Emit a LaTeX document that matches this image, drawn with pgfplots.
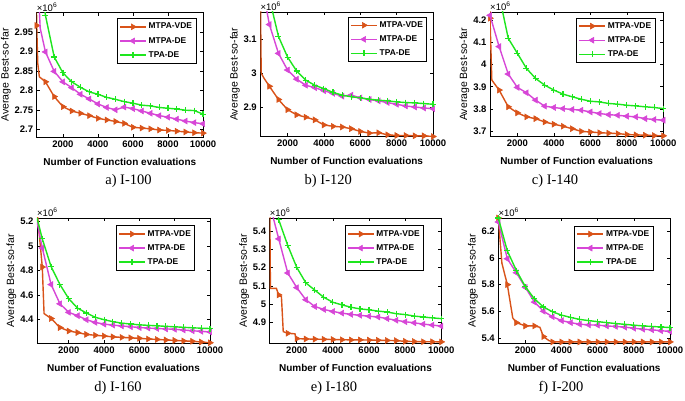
\documentclass[border=0pt]{standalone}
\usepackage{fontspec}
\setmainfont{Liberation Sans}
\newfontfamily\capfont{Liberation Serif}
\usepackage{pgfplots}
\usepackage{pgfplotstable}
\pgfplotsset{compat=1.18}
\definecolor{cO}{RGB}{217,83,25}
\definecolor{cM}{RGB}{215,70,215}
\definecolor{cG}{RGB}{30,230,30}

\pgfplotstableread{
x y
480 3.03
500 2.967
560 2.87
650 2.835
1000 2.822
1500 2.784
2000 2.758
2500 2.747
3000 2.741
3500 2.735
4000 2.728
4500 2.724
5000 2.72
5500 2.715
6000 2.705
6500 2.703
7000 2.701
7500 2.698
8000 2.697
8500 2.695
9000 2.693
9500 2.691
10000 2.69
}\Avde
\pgfplotstableread{
x y
500 3.15
700 2.96
1000 2.899
1500 2.849
2000 2.822
2500 2.807
3000 2.79
3500 2.778
4000 2.765
4500 2.756
5000 2.75
5500 2.757
6000 2.753
6500 2.747
7000 2.741
7500 2.735
8000 2.731
8500 2.726
9000 2.721
9500 2.717
10000 2.714
}\Ade
\pgfplotstableread{
x y
500 3.3
900 3.03
1000 2.993
1500 2.886
2000 2.845
2500 2.822
3000 2.808
3500 2.796
4000 2.79
4500 2.782
5000 2.777
5500 2.771
6000 2.767
6500 2.762
7000 2.76
7500 2.756
8000 2.754
8500 2.752
9000 2.749
9500 2.748
10000 2.739
}\Atpa
\pgfplotstableread{
x y
500 3.25
550 3.0
700 2.985
1000 2.961
1500 2.922
2000 2.892
2500 2.877
3000 2.87
3500 2.862
4000 2.847
4500 2.843
5000 2.841
5500 2.836
6000 2.828
6500 2.823
7000 2.824
7500 2.818
8000 2.816
8500 2.816
9000 2.815
9500 2.815
10000 2.813
}\Bvde
\pgfplotstableread{
x y
500 3.5
800 3.2
1000 3.143
1500 3.058
2000 3.009
2500 2.982
3000 2.964
3500 2.957
4000 2.948
4500 2.94
5000 2.932
5500 2.935
6000 2.927
6500 2.922
7000 2.918
7500 2.913
8000 2.908
8500 2.903
9000 2.9
9500 2.897
10000 2.895
}\Bde
\pgfplotstableread{
x y
500 3.6
1000 3.22
1500 3.108
2000 3.047
2500 3.006
3000 2.979
3500 2.964
4000 2.954
4500 2.943
5000 2.935
5500 2.93
6000 2.927
6500 2.923
7000 2.92
7500 2.918
8000 2.915
8500 2.913
9000 2.912
9500 2.91
10000 2.908
}\Btpa
\pgfplotstableread{
x y
480 4.3
500 4.207
600 3.93
1000 3.885
1500 3.81
2000 3.783
2500 3.765
3000 3.757
3500 3.742
4000 3.732
4500 3.723
5000 3.712
5500 3.70
6000 3.697
6500 3.694
7000 3.692
7500 3.69
8000 3.686
8500 3.684
9000 3.683
9500 3.681
10000 3.68
}\Cvde
\pgfplotstableread{
x y
500 4.22
1000 4.08
1500 3.957
2000 3.897
2500 3.873
3000 3.84
3500 3.813
4000 3.807
4500 3.802
5000 3.798
5500 3.795
6000 3.787
6500 3.78
7000 3.775
7500 3.772
8000 3.768
8500 3.765
9000 3.757
9500 3.753
10000 3.75
}\Cde
\pgfplotstableread{
x y
500 4.6
1000 4.31
1500 4.117
2000 4.05
2500 3.982
3000 3.937
3500 3.907
4000 3.885
4500 3.867
5000 3.855
5500 3.844
6000 3.835
6500 3.832
7000 3.825
7500 3.822
8000 3.817
8500 3.814
9000 3.81
9500 3.807
10000 3.802
}\Ctpa
\pgfplotstableread{
x y
200 5.3
500 4.83
600 4.45
1000 4.41
1500 4.336
2000 4.308
2500 4.295
3000 4.28
3500 4.273
4000 4.267
4500 4.26
5000 4.256
5500 4.252
6000 4.248
6500 4.243
7000 4.239
7500 4.235
8000 4.231
8500 4.227
9000 4.224
9500 4.218
10000 4.212
}\Dvde
\pgfplotstableread{
x y
200 5.2
500 4.985
1000 4.687
1500 4.53
2000 4.46
2500 4.433
3000 4.40
3500 4.378
4000 4.364
4500 4.356
5000 4.349
5500 4.343
6000 4.336
6500 4.332
7000 4.328
7500 4.325
8000 4.322
8500 4.316
9000 4.31
9500 4.305
10000 4.30
}\Dde
\pgfplotstableread{
x y
200 5.23
500 5.06
1000 4.833
1500 4.687
2000 4.571
2500 4.494
3000 4.455
3500 4.42
4000 4.40
4500 4.384
5000 4.372
5500 4.365
6000 4.358
6500 4.354
7000 4.35
7500 4.346
8000 4.342
8500 4.338
9000 4.334
9500 4.331
10000 4.328
}\Dtpa
\pgfplotstableread{
x y
500 5.6
540 5.086
870 5.086
1000 5.05
1150 5.04
1250 4.85
1500 4.841
1900 4.838
1950 4.815
2000 4.812
2500 4.81
3000 4.809
3500 4.808
4000 4.807
4500 4.806
5000 4.805
5500 4.805
6000 4.804
6500 4.803
7000 4.802
7500 4.801
8000 4.797
8500 4.796
9000 4.795
9500 4.795
10000 4.794
}\Evde
\pgfplotstableread{
x y
500 5.7
700 5.47
1000 5.356
1500 5.17
2000 5.09
2500 5.024
3000 4.987
3500 4.971
4000 4.96
4500 4.951
5000 4.944
5500 4.939
6000 4.934
6500 4.93
7000 4.921
7500 4.912
8000 4.904
8500 4.898
9000 4.891
9500 4.886
10000 4.88
}\Ede
\pgfplotstableread{
x y
500 6.0
1000 5.46
1500 5.32
2000 5.2
2500 5.116
3000 5.076
3500 5.037
4000 5.01
4500 4.996
5000 4.983
5500 4.974
6000 4.969
6500 4.962
7000 4.957
7500 4.948
8000 4.943
8500 4.935
9000 4.93
9500 4.925
10000 4.921
}\Etpa
\pgfplotstableread{
x y
500 6.3
700 5.96
1000 5.80
1300 5.55
1500 5.515
2000 5.49
2500 5.49
2800 5.48
3000 5.41
3300 5.38
3500 5.37
4000 5.37
4500 5.37
5000 5.37
5500 5.37
6000 5.37
6500 5.37
7000 5.37
7500 5.37
8000 5.37
8500 5.37
9000 5.37
9500 5.37
10000 5.37
}\Fvde
\pgfplotstableread{
x y
500 6.27
1000 5.994
1500 5.889
2000 5.779
2500 5.669
3000 5.6
3500 5.559
4000 5.53
4500 5.515
5000 5.503
5500 5.498
6000 5.496
6500 5.49
7000 5.486
7500 5.481
8000 5.473
8500 5.466
9000 5.461
9500 5.454
10000 5.449
}\Fde
\pgfplotstableread{
x y
500 6.30
1000 6.053
1500 5.906
2000 5.784
2500 5.693
3000 5.632
3500 5.596
4000 5.571
4500 5.554
5000 5.539
5500 5.53
6000 5.522
6500 5.515
7000 5.508
7500 5.502
8000 5.496
8500 5.49
9000 5.486
9500 5.482
10000 5.478
}\Ftpa

\pgfplotsset{
  vde/.style={color=cO, line width=1.4pt, mark=triangle*, mark size=3.4pt, mark options={rotate=-90, solid, line width=0.5pt}},
  de/.style={color=cM, line width=1.4pt, mark=triangle*, mark size=3.4pt, mark options={rotate=90, solid, line width=0.5pt}},
  tpa/.style={color=cG, line width=1.4pt, mark=+, mark size=3pt, mark options={solid, line width=1.1pt}},
  panel/.style={
    scale only axis, anchor=south west,
    clip mode=individual,
    xmax=10000, xtick={2000,4000,6000,8000,10000},
    scaled ticks=false,
    /pgf/number format/assume math mode=true,
    /pgf/number format/1000 sep={},
    tick label style={font=\bfseries\fontsize{9.5}{10}\selectfont},
    axis line style={line width=0.8pt},
    major tick length=3pt,
    tick style={line width=0.6pt, black},
    xlabel={Number of Function evaluations},
    ylabel={Average Best-so-far},
    xlabel style={font=\bfseries\fontsize{10}{11}\selectfont, yshift=-4pt},
    ylabel style={font=\fontsize{10.5}{11}\selectfont, yshift=-3pt},
    legend cell align=left,
    legend image code/.code={\draw[mark repeat=2,mark phase=2,##1] plot coordinates {(0pt,0pt) (13pt,0pt) (26pt,0pt)};},
    legend style={anchor=north east, draw=black, line width=0.8pt,
      font=\bfseries\fontsize{8.4}{9}\selectfont, inner xsep=2pt, inner ysep=2.5pt, row sep=2.8pt},
  },
}
\newcommand{\threeseries}[3]{%
  \addplot[vde, no markers, forget plot] table {#1};
  \addplot[vde, only marks, forget plot, x filter/.expression={mod(x,500)==0 ? x : nan}] table {#1};
  \addplot[de, no markers, forget plot] table {#2};
  \addplot[de, only marks, forget plot, x filter/.expression={mod(x,500)==0 ? x : nan}] table {#2};
  \addplot[tpa, no markers, forget plot] table {#3};
  \addplot[tpa, only marks, forget plot, x filter/.expression={mod(x,500)==0 ? x : nan}] table {#3};
  \addlegendimage{vde}\addlegendentry{MTPA-VDE}
  \addlegendimage{de}\addlegendentry{MTPA-DE}
  \addlegendimage{tpa}\addlegendentry{TPA-DE}
  \node[anchor=south west, inner sep=0pt, font=\fontsize{9.5}{10}\selectfont] at (rel axis cs:0,1) [yshift=1.2pt] {×10\textsuperscript{6}};
}

\begin{document}
\begin{tikzpicture}[x=1pt,y=1pt]
\useasboundingbox (0,0) rectangle (685,401);
\fill[white] (0,0) rectangle (685,401);

\begin{axis}[panel, at={(36.7pt,264pt)}, width=166.3pt, height=124.3pt,
  xmin=500, ymin=2.68, ymax=3.0, ytick={2.7,2.75,2.8,2.85,2.9,2.95},
  yticklabel style={/pgf/number format/fixed, /pgf/number format/precision=2},
  legend style={at={(0.96,0.955)}}]
\threeseries{\Avde}{\Ade}{\Atpa}
\end{axis}

\begin{axis}[panel, at={(260.3pt,264.5pt)}, width=172.7pt, height=124.5pt,
  xmin=500, ymin=2.813, ymax=3.18, ytick={2.9,3,3.1},
  legend style={at={(0.967,0.962)}}]
\threeseries{\Bvde}{\Bde}{\Btpa}
\end{axis}

\begin{axis}[panel, at={(490pt,264.5pt)}, width=173.3pt, height=124.5pt,
  xmin=500, ymin=3.677, ymax=4.235, ytick={3.7,3.8,3.9,4,4.1,4.2},
  legend style={at={(0.955,0.955)}}]
\threeseries{\Cvde}{\Cde}{\Ctpa}
\end{axis}

\begin{axis}[panel, at={(37pt,58pt)}, width=173pt, height=125pt,
  xmin=200, ymin=4.21, ymax=5.23, ytick={4.4,4.6,4.8,5,5.2},
  legend style={at={(0.915,0.94)}}]
\threeseries{\Dvde}{\Dde}{\Dtpa}
\end{axis}

\begin{axis}[panel, at={(269.7pt,58pt)}, width=171.6pt, height=125pt,
  xmin=500, ymin=4.788, ymax=5.47, ytick={4.9,5,5.1,5.2,5.3,5.4},
  legend style={at={(0.9,0.94)}}]
\threeseries{\Evde}{\Ede}{\Etpa}
\end{axis}

\begin{axis}[panel, at={(498.3pt,58pt)}, width=171.7pt, height=125pt,
  xmin=500, ymin=5.362, ymax=6.3, ytick={5.4,5.6,5.8,6,6.2},
  legend style={at={(0.905,0.94)}}]
\threeseries{\Fvde}{\Fde}{\Ftpa}
\end{axis}

\begin{scope}[font=\capfont\fontsize{14.5}{16}\selectfont]
\node at (128.5,220) {a) I-100};
\node at (328.3,220) {b) I-120};
\node at (555,220) {c) I-140};
\node at (118,13) {d) I-160};
\node at (334,13) {e) I-180};
\node at (561,13) {f) I-200};
\end{scope}
\end{tikzpicture}
\end{document}
